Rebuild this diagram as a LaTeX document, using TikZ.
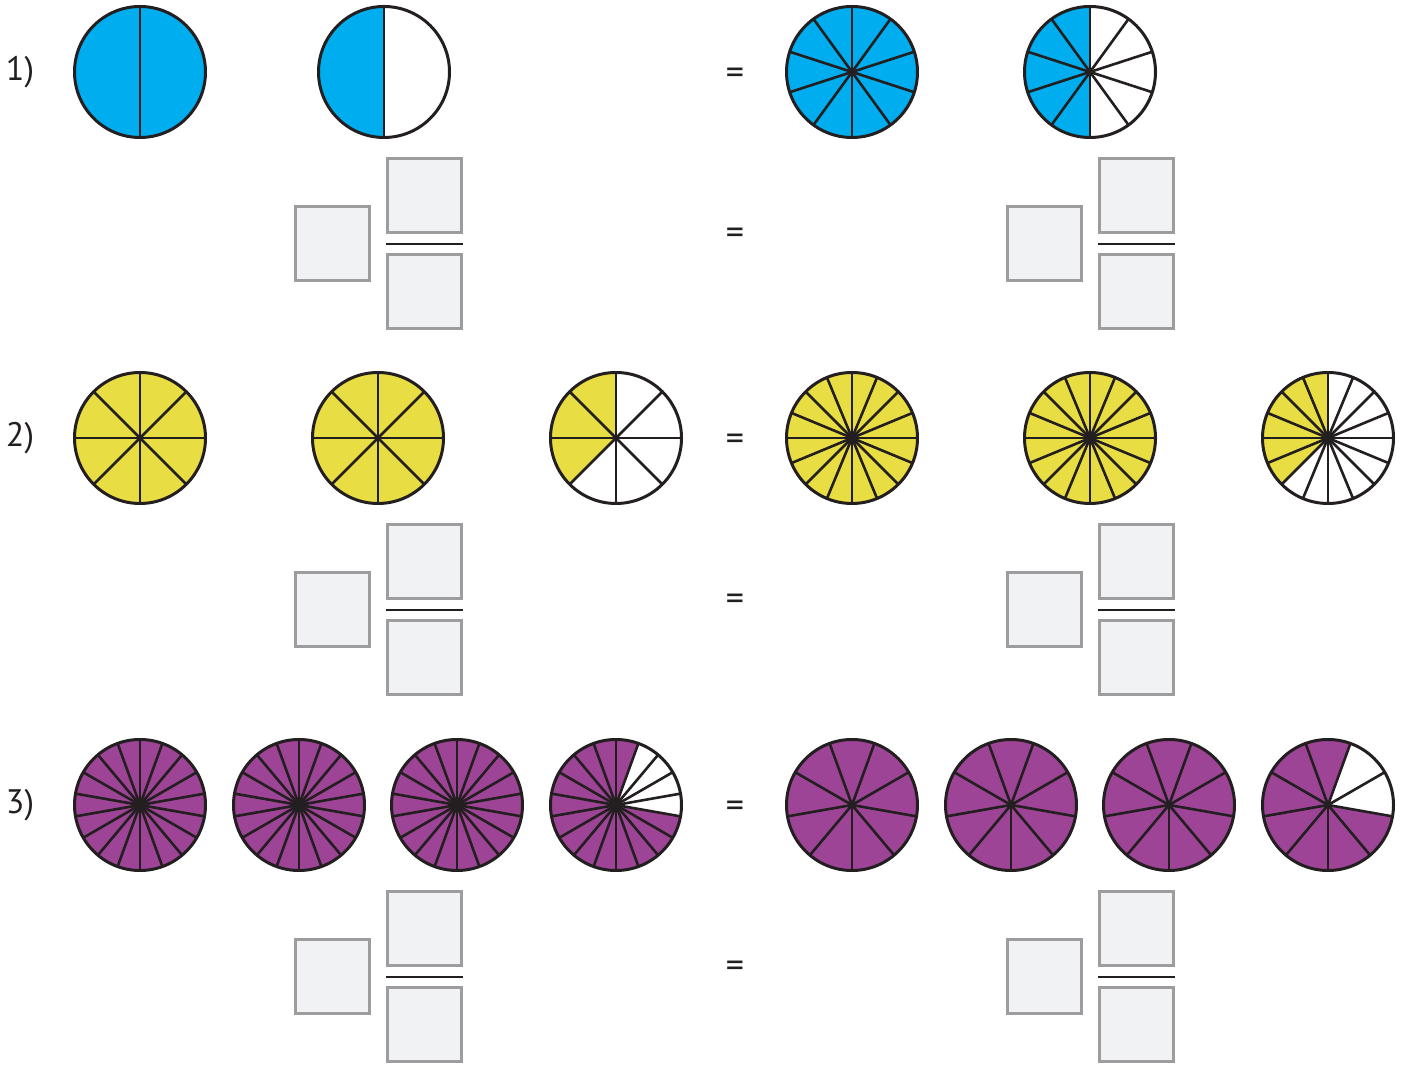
\documentclass[tikz,border=0pt]{standalone}
\usepackage{fontspec}
\setmainfont{PT Sans}
\definecolor{pblue}{RGB}{0,174,239}
\definecolor{pyellow}{RGB}{233,221,68}
\definecolor{ppurple}{RGB}{158,68,150}
\definecolor{boxfill}{RGB}{241,242,244}
\definecolor{boxline}{RGB}{157,157,160}
\definecolor{ink}{RGB}{35,31,32}
\newcommand\pieR{65.5}
\newcommand\fracpie[7]{% name, x, y, n, start angle, filled m, colour
  \coordinate (#1) at (#2,#3);
  \fill[#7] (#1) -- ++(#5:\pieR) arc[start angle=#5, delta angle={#6*360/#4}, radius=\pieR] -- cycle;
  \foreach \k in {1,...,#4} \draw[spoke] (#1) -- ++({#5+\k*360/#4}:\pieR);
  \draw[rim] (#1) circle[radius=\pieR];
}
\newcommand\fracbox[3]{% prefix, left x of bar, y of bar
  \node[ansbox] (#1w) at ({#2-54},#3) {};
  \node[ansbox] (#1n) at ({#2+38.5},{#3+48}) {};
  \node[ansbox] (#1d) at ({#2+38.5},{#3-48}) {};
  \coordinate (#1a) at (#2,#3);
  \coordinate (#1b) at ({#2+77},#3);
  \draw[fracbar] (#1a) -- (#1b);
}
\begin{document}
\begin{tikzpicture}[x=1pt,y=1pt,
  spoke/.style={draw=ink, line width=2.6pt},
  rim/.style={draw=ink, line width=3pt},
  ansbox/.style={draw=boxline, fill=boxfill, line width=3pt, minimum size=74pt, inner sep=0pt, rectangle},
  fracbar/.style={draw=ink, line width=2.8pt},
  lab/.style={text=ink, font=\fontsize{34}{40}\selectfont, inner sep=0pt},
  eqs/.style={text=ink, font=\fontsize{36}{40}\selectfont, inner sep=0pt, yshift=-4.5pt}]
\useasboundingbox (0,0) rectangle (1406,1068);
% labels
\node[lab] (l1) at (20,996) {1)};
\node[lab] (l2) at (20,630) {2)};
\node[lab] (l3) at (20,263) {3)};
% equals
\node[eqs] (e1a) at (735,996) {=};
\node[eqs] (e1b) at (735,836) {=};
\node[eqs] (e2a) at (735,630) {=};
\node[eqs] (e2b) at (735,470) {=};
\node[eqs] (e3a) at (735,263) {=};
\node[eqs] (e3b) at (735,103) {=};
% row 1
\fracpie{p11}{140}{996}{2}{90}{2}{pblue}
\fracpie{p12}{384}{996}{2}{90}{1}{pblue}
\fracpie{p13}{852}{996}{10}{90}{10}{pblue}
\fracpie{p14}{1090}{996}{10}{90}{5}{pblue}
% row 2
\fracpie{p21}{140}{630}{8}{90}{8}{pyellow}
\fracpie{p22}{378}{630}{8}{90}{8}{pyellow}
\fracpie{p23}{616}{630}{8}{90}{3}{pyellow}
\fracpie{p24}{852}{630}{16}{90}{16}{pyellow}
\fracpie{p25}{1090}{630}{16}{90}{16}{pyellow}
\fracpie{p26}{1328}{630}{16}{90}{6}{pyellow}
% row 3
\fracpie{p31}{140}{263}{18}{70}{18}{ppurple}
\fracpie{p32}{299}{263}{18}{70}{18}{ppurple}
\fracpie{p33}{457}{263}{18}{70}{18}{ppurple}
\fracpie{p34}{616}{263}{18}{70}{14}{ppurple}
\fracpie{p35}{852}{263}{9}{70}{9}{ppurple}
\fracpie{p36}{1011}{263}{9}{70}{9}{ppurple}
\fracpie{p37}{1169}{263}{9}{70}{9}{ppurple}
\fracpie{p38}{1328}{263}{9}{70}{7}{ppurple}
% answer boxes
\fracbox{f1L}{386}{824}
\fracbox{f1R}{1098}{824}
\fracbox{f2L}{386}{458}
\fracbox{f2R}{1098}{458}
\fracbox{f3L}{386}{91}
\fracbox{f3R}{1098}{91}
\end{tikzpicture}
\end{document}
